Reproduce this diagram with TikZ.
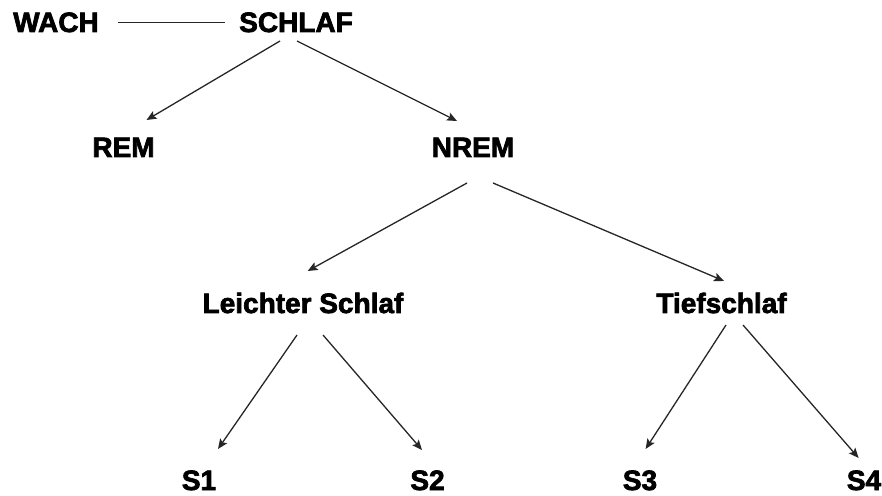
\documentclass[tikz,border=0pt]{standalone}
\usepackage{fontspec}
\newfontfamily\hvfont{Liberation Sans Bold}[FakeBold=2.5]
\usetikzlibrary{arrows.meta}
\begin{document}
\begin{tikzpicture}[x=1pt,y=1pt,
  lbl/.style={anchor=base,inner sep=0pt,outer sep=0pt,font=\hvfont\fontsize{28}{30}\selectfont},
  arr/.style={draw=black!85,line width=1.3pt,-{Stealth[length=10pt,width=8.5pt,inset=2pt]}},
  plain/.style={draw=black!85,line width=1.3pt}]
\useasboundingbox (0,0) rectangle (882,495);
\node[lbl] (wach) at (56,463) {WACH};
\node[lbl] (schlaf) at (296,463) {SCHLAF};
\node[lbl] (rem) at (123.5,338) {REM};
\node[lbl] (nrem) at (473,338) {NREM};
\node[lbl] (leicht) at (303,182) {Leichter Schlaf};
\node[lbl] (tief) at (721.5,182) {Tiefschlaf};
\node[lbl] (s1) at (199,5) {S1};
\node[lbl] (s2) at (427.5,5) {S2};
\node[lbl] (s3) at (640,5) {S3};
\node[lbl] (s4) at (864,5) {S4};
\draw[plain] ([shift={(62,9.3)}]wach.base) -- ([shift={(-71,9.3)}]schlaf.base);
\draw[arr] ([shift={(-16,-9)}]schlaf.base) -- ([shift={(23,37)}]rem.base);
\draw[arr] ([shift={(1,-9)}]schlaf.base) -- ([shift={(-16,36)}]nrem.base);
\draw[arr] ([shift={(-6,-26)}]nrem.base) -- ([shift={(4.7,42)}]leicht.base);
\draw[arr] ([shift={(20,-26)}]nrem.base) -- ([shift={(2.5,32)}]tief.base);
\draw[arr] ([shift={(-6,-22)}]leicht.base) -- ([shift={(19,41)}]s1.base);
\draw[arr] ([shift={(20,-22)}]leicht.base) -- ([shift={(-5.5,40)}]s2.base);
\draw[arr] ([shift={(4.5,-12)}]tief.base) -- ([shift={(5.6,41)}]s3.base);
\draw[arr] ([shift={(21.5,-12)}]tief.base) -- ([shift={(-5.4,32)}]s4.base);
\end{tikzpicture}
\end{document}
